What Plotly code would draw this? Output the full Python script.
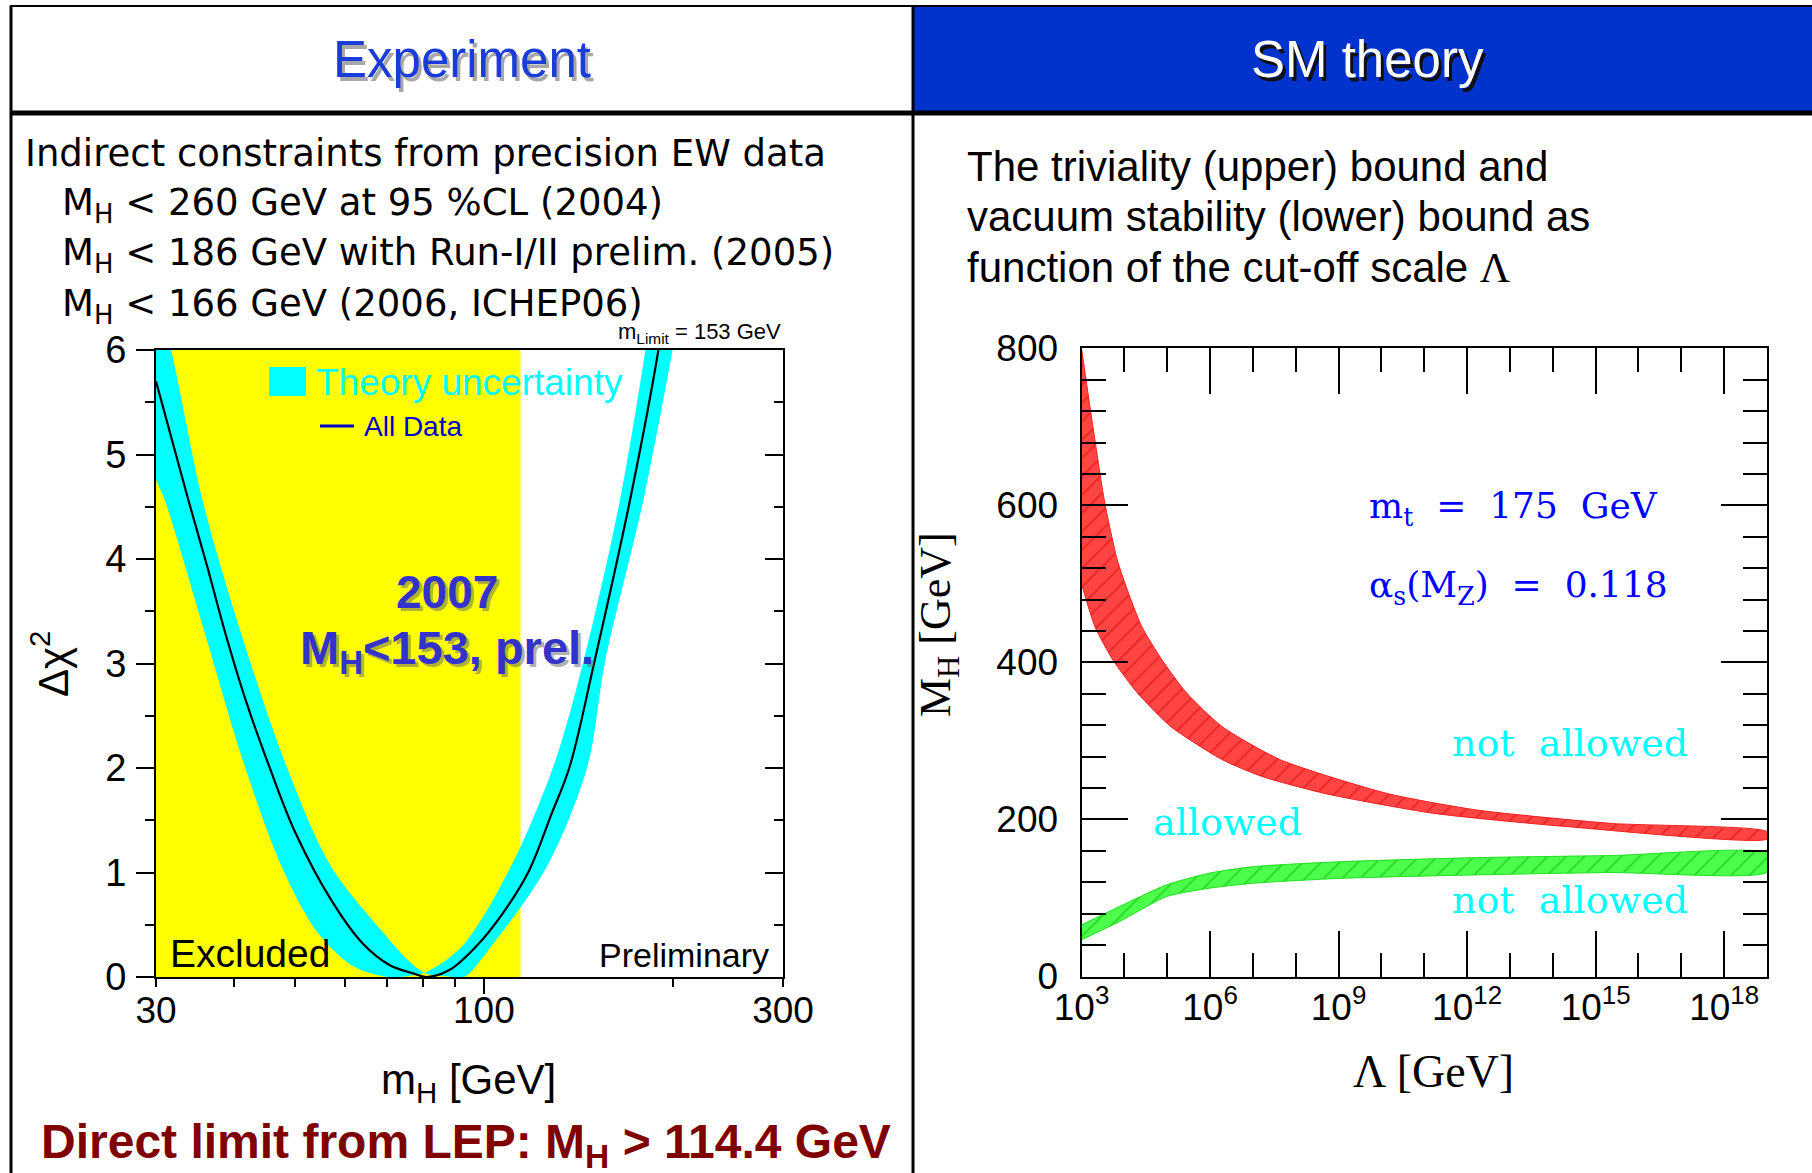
import math
import plotly.graph_objects as go

W, H = 1812, 1173

# ---------------- Electroweak fit: delta chi^2 versus m_H ----------------
lep_limit_gev = 114.4
chi2_range = [0, 6]
mh_range = [30, 300]

# central curve (all data)
fit_mh = [30.0, 33.8, 36.2, 38.7, 41.7, 45.5, 50.1, 57.1, 64.1, 70.7, 77.1, 81.0,
          88.1, 97.1, 107.2, 118.1, 128.0, 137.0, 150.0, 171.0, 189.6, 193.0]
fit_dchi2 = [5.70, 4.56, 3.93, 3.29, 2.65, 2.01, 1.375, 0.735, 0.32, 0.115, 0.035, 0.0,
             0.067, 0.29, 0.61, 1.02, 1.55, 2.01, 3.01, 4.56, 5.98, 6.3]

# theory-uncertainty band: edge with the lower minimum
band_a_mh = [28.0, 30.0, 31.0, 35.9, 41.6, 47.6, 54.4, 62.0, 70.5, 76.0, 81.0,
             92.2, 110.4, 129.0, 144.0, 164.8, 181.0, 184.0]
band_a_dchi2 = [5.3, 4.76, 4.56, 3.29, 2.01, 1.055, 0.42, 0.10, 0.0, 0.01, 0.05,
                0.29, 1.055, 2.01, 3.01, 4.56, 6.0, 6.3]
# theory-uncertainty band: edge with the higher minimum
band_b_mh = [28.0, 31.7, 35.6, 41.0, 48.5, 57.1, 69.2, 76.0, 81.0, 88.0, 93.0,
             102.6, 126.0, 146.2, 156.0, 179.6, 200.0, 204.0]
band_b_dchi2 = [7.2, 6.0, 4.56, 3.29, 2.01, 1.055, 0.42, 0.15, 0.03, 0.005, 0.0,
                0.29, 1.055, 2.01, 3.01, 4.56, 6.0, 6.3]

left_xticks = [30, 100, 300]
left_xminor = [40, 50, 60, 70, 80, 90, 200]
left_yticks = [0, 1, 2, 3, 4, 5, 6]

# ---------------- Triviality / vacuum-stability bounds ----------------
lambda_exp_range = [3, 19]
mh_bound_range = [0, 800]

# triviality (upper) bound band
triv_hi_exp = [3.0, 3.245, 3.544, 3.838, 4.099, 4.412, 4.881, 5.454, 6.288, 7.643,
               10.14, 12.23, 15.36, 19.0]
triv_hi_mh = [800, 708, 603, 530, 488, 445, 403, 361, 318, 276, 233, 212, 195, 184.5]
triv_lo_exp = [3.0, 3.317, 3.734, 4.307, 5.089, 6.288, 7.226, 8.685, 11.19, 14.31, 19.0]
triv_lo_mh = [500, 445, 403, 361, 318, 276, 254.5, 233, 208, 191, 175]

# vacuum stability (lower) bound band
stab_exp = [3.0, 3.89, 4.985, 5.975, 7.018, 9.103, 12.23, 15.36, 19.0]
stab_hi_mh = [65.8, 89.1, 116.7, 131.5, 140.0, 146.3, 151.4, 154.0, 157.0]
stab_lo_mh = [46.7, 70.0, 101.8, 112.4, 118.8, 125.1, 129.4, 132.4, 132.8]

right_xtick_exp = [3, 6, 9, 12, 15, 18]
right_xminor_exp = [4, 5, 7, 8, 10, 11, 13, 14, 16, 17, 19]
right_yticks = [0, 200, 400, 600, 800]


def fx(p):
    return p / W


def fy(p):
    return 1 - p / H


L_X = [fx(156), fx(783)]
L_Y = [fy(977), fy(350)]
R_X = [fx(1081.5), fx(1767)]
R_Y = [fy(976.5), fy(348.3)]
left_log_range = [math.log10(mh_range[0]), math.log10(mh_range[1])]

SANS = "Liberation Sans, Arial, sans-serif"
SERIF = "Liberation Serif, Times New Roman, serif"
WIDE_SERIF = "DejaVu Serif, serif"
SLIDE = "DejaVu Sans, Verdana, sans-serif"
NB = "&nbsp;"

fig = go.Figure()

# excluded region below the LEP limit
fig.add_trace(go.Scatter(
    x=[mh_range[0], lep_limit_gev, lep_limit_gev, mh_range[0]],
    y=[chi2_range[0], chi2_range[0], chi2_range[1], chi2_range[1]],
    fill="toself", fillcolor="#FFFF00", mode="lines", line=dict(width=0),
    hoverinfo="skip", showlegend=False, xaxis="x", yaxis="y"))

# blue band
fig.add_trace(go.Scatter(
    x=band_a_mh + band_b_mh[::-1], y=band_a_dchi2 + band_b_dchi2[::-1],
    fill="toself", fillcolor="#00FFFF", mode="lines",
    line=dict(width=0, color="#00FFFF", shape="spline", smoothing=0.9),
    hoverinfo="skip", showlegend=False, xaxis="x", yaxis="y"))

# central fit curve
fig.add_trace(go.Scatter(
    x=fit_mh, y=fit_dchi2, mode="lines", line=dict(color="black", width=2.2, shape="spline"),
    hoverinfo="skip", showlegend=False, xaxis="x", yaxis="y"))

# carriers for the mirrored tick axes
fig.add_trace(go.Scatter(x=[50], y=[1], mode="markers", marker=dict(opacity=0),
                         hoverinfo="skip", showlegend=False, xaxis="x", yaxis="y3"))
fig.add_trace(go.Scatter(x=[50], y=[1], mode="markers", marker=dict(opacity=0),
                         hoverinfo="skip", showlegend=False, xaxis="x3", yaxis="y"))

# triviality band
fig.add_trace(go.Scatter(
    x=[10 ** e for e in triv_hi_exp] + [10 ** e for e in triv_lo_exp[::-1]],
    y=triv_hi_mh + triv_lo_mh[::-1],
    fill="toself", mode="lines", line=dict(width=1, color="#F02020", shape="spline", smoothing=0.6),
    fillcolor="#FF4444",
    fillpattern=dict(shape="/", fgcolor="#D00000", bgcolor="#FF4444", size=13, solidity=0.12),
    hoverinfo="skip", showlegend=False, xaxis="x2", yaxis="y2"))

# vacuum stability band
fig.add_trace(go.Scatter(
    x=[10 ** e for e in stab_exp] + [10 ** e for e in stab_exp[::-1]],
    y=stab_hi_mh + stab_lo_mh[::-1],
    fill="toself", mode="lines", line=dict(width=1, color="#20E020", shape="spline", smoothing=0.6),
    fillcolor="#4DFF4D",
    fillpattern=dict(shape="/", fgcolor="#00A800", bgcolor="#4DFF4D", size=13, solidity=0.12),
    hoverinfo="skip", showlegend=False, xaxis="x2", yaxis="y2"))

axis_common = dict(showgrid=False, zeroline=False, linecolor="black", linewidth=2,
                   tickcolor="black", tickwidth=2, automargin=False)

fig.update_layout(
    width=W, height=H, margin=dict(l=0, r=0, t=0, b=0, pad=0, autoexpand=False),
    paper_bgcolor="white", plot_bgcolor="white", showlegend=False,
    xaxis=dict(domain=L_X, anchor="y", type="log", range=left_log_range,
               showline=True, mirror=True, ticks="outside", ticklen=8,
               tickvals=left_xticks, ticktext=[str(v) for v in left_xticks],
               minor=dict(tickvals=left_xminor, ticks="outside", ticklen=8,
                          tickcolor="black", tickwidth=2),
               tickfont=dict(family=SANS, size=37, color="black"),
               ticklabelstandoff=-8, **axis_common),
    xaxis3=dict(domain=L_X, anchor="y", overlaying="x", side="bottom", type="log",
                range=left_log_range, ticks="outside", ticklen=16,
                tickvals=[100], showticklabels=False, showline=False,
                showgrid=False, zeroline=False, tickcolor="black", tickwidth=2,
                automargin=False),
    yaxis=dict(domain=L_Y, anchor="x", range=chi2_range, showline=True, mirror=True,
               ticks="outside", ticklen=18, tickvals=left_yticks,
               minor=dict(dtick=0.5, ticks="outside", ticklen=9, tickcolor="black", tickwidth=2),
               tickfont=dict(family=SANS, size=38, color="black"),
               ticklabelstandoff=2, **axis_common),
    yaxis3=dict(domain=L_Y, anchor="x", overlaying="y", side="right", range=chi2_range,
                ticks="inside", ticklen=18, tickvals=left_yticks, showticklabels=False,
                minor=dict(dtick=0.5, ticks="inside", ticklen=9, tickcolor="black", tickwidth=2),
                showline=False, showgrid=False, zeroline=False, tickcolor="black", tickwidth=2,
                automargin=False),
    xaxis2=dict(domain=R_X, anchor="y2", type="log", range=lambda_exp_range,
                showline=True, mirror="ticks", ticks="inside", ticklen=46,
                tickvals=[10 ** e for e in right_xtick_exp],
                ticktext=["10<sup>%d</sup>" % e for e in right_xtick_exp],
                minor=dict(tickvals=[10 ** e for e in right_xminor_exp], ticks="inside",
                           ticklen=24, tickcolor="black", tickwidth=2),
                tickfont=dict(family=SANS, size=37, color="black"),
                ticklabelstandoff=-3, **axis_common),
    yaxis2=dict(domain=R_Y, anchor="x2", range=mh_bound_range, showline=True,
                mirror="ticks", ticks="inside", ticklen=46, tickvals=right_yticks,
                minor=dict(dtick=40, ticks="inside", ticklen=24, tickcolor="black", tickwidth=2),
                tickfont=dict(family=SANS, size=37, color="black"),
                ticklabelstandoff=14, **axis_common),
)

shapes = [
    # header cells
    dict(type="rect", xref="paper", yref="paper", x0=fx(913), x1=1, y0=fy(113), y1=fy(6),
         fillcolor="#0033CC", line=dict(width=0), layer="below"),
    dict(type="line", xref="paper", yref="paper", x0=fx(10), x1=1, y0=fy(6), y1=fy(6),
         line=dict(color="black", width=2)),
    dict(type="line", xref="paper", yref="paper", x0=fx(10), x1=1, y0=fy(113), y1=fy(113),
         line=dict(color="black", width=5)),
    dict(type="line", xref="paper", yref="paper", x0=fx(11), x1=fx(11), y0=0, y1=fy(6),
         line=dict(color="black", width=3)),
    dict(type="line", xref="paper", yref="paper", x0=fx(913), x1=fx(913), y0=0, y1=fy(6),
         line=dict(color="black", width=3)),
    # legend swatch and line of the fit panel
    dict(type="rect", xref="paper", yref="paper", x0=fx(269), x1=fx(306), y0=fy(396), y1=fy(367),
         fillcolor="#00FFFF", line=dict(width=0)),
    dict(type="line", xref="paper", yref="paper", x0=fx(320), x1=fx(354), y0=fy(426), y1=fy(426),
         line=dict(color="#0000CC", width=3)),
]

ann = []


def text(x, y, s, size, color="black", family=SANS, xanchor="left", yanchor="middle",
         angle=0):
    ann.append(dict(xref="paper", yref="paper", x=fx(x), y=fy(y), text=s, showarrow=False,
                    xanchor=xanchor, yanchor=yanchor, textangle=angle,
                    font=dict(family=family, size=size, color=color)))


# header titles with drop shadows
text(465, 63, "Experiment", 51, "#A8A8A8", xanchor="center")
text(462, 60, "Experiment", 51, "#1A3CD8", xanchor="center")
text(1370, 63, "SM theory", 51, "#101010", xanchor="center")
text(1367, 60, "SM theory", 51, "white", xanchor="center")

# left panel text
text(23, 153, "Indirect constraints from precision EW data", 37, family=SLIDE)
text(60, 205, "M<sub>H</sub> &lt; 260 GeV at 95 %CL (2004)", 37, family=SLIDE)
text(60, 255, "M<sub>H</sub> &lt; 186 GeV with Run-I/II prelim. (2005)", 37, family=SLIDE)
text(60, 306, "M<sub>H</sub> &lt; 166 GeV (2006, ICHEP06)", 37, family=SLIDE)
text(783, 333, "m<sub>Limit</sub> = 153 GeV", 22, xanchor="right")

# fit panel labels
text(314, 382, "Theory uncertainty", 37, "#00FFFF")
text(362, 426, "All Data", 28, "#0000CC")
text(450, 595, "<b>2007</b>", 46, "rgba(110,110,110,0.55)", xanchor="center")
text(447, 592, "<b>2007</b>", 46, "#3333CC", xanchor="center")
text(450, 654, "<b>M<sub>H</sub>&lt;153, prel.</b>", 47, "rgba(110,110,110,0.55)", xanchor="center")
text(447, 651, "<b>M<sub>H</sub>&lt;153, prel.</b>", 47, "#3333CC", xanchor="center")
text(168, 953, "Excluded", 39)
text(771, 955, "Preliminary", 34, xanchor="right")
text(50, 664, "\u0394\u03c7<sup>2</sup>", 42, angle=-90, xanchor="center")
text(468, 1082, "m<sub>H</sub> [GeV]", 42, xanchor="center")
text(466, 1145, "<b>Direct limit from LEP: M<sub>H</sub> &gt; 114.4 GeV</b>", 48, "#800000",
     xanchor="center")

# right panel text
text(965, 166, "The triviality (upper) bound and", 42)
text(965, 216, "vacuum stability (lower) bound as", 42)
text(965, 267, "function of the cut-off scale <span style='font-family:Liberation Serif'>\u039b</span>", 42)

text(938, 625, "M<sub>H</sub> [GeV]", 44, family=SERIF, angle=-90, xanchor="center")
text(1433, 1071, "\u039b [GeV]", 46, family=SERIF, xanchor="center")
text(1367, 508, "m<sub>t</sub>" + NB * 2 + "=" + NB * 2 + "175" + NB * 2 + "GeV",
     36, "#0000FF", family=WIDE_SERIF)
text(1367, 587, "\u03b1<sub>s</sub>(M<sub>Z</sub>)" + NB * 2 + "=" + NB * 2 + "0.118",
     36, "#0000FF", family=WIDE_SERIF)
text(1570, 743, "not" + NB * 2 + "allowed", 38, "#00FFFF", family=WIDE_SERIF, xanchor="center")
text(1570, 900, "not" + NB * 2 + "allowed", 38, "#00FFFF", family=WIDE_SERIF, xanchor="center")
text(1227, 822, "allowed", 38, "#00FFFF", family=WIDE_SERIF, xanchor="center")

fig.update_layout(shapes=shapes, annotations=ann)

fig.write_html("out.html")
